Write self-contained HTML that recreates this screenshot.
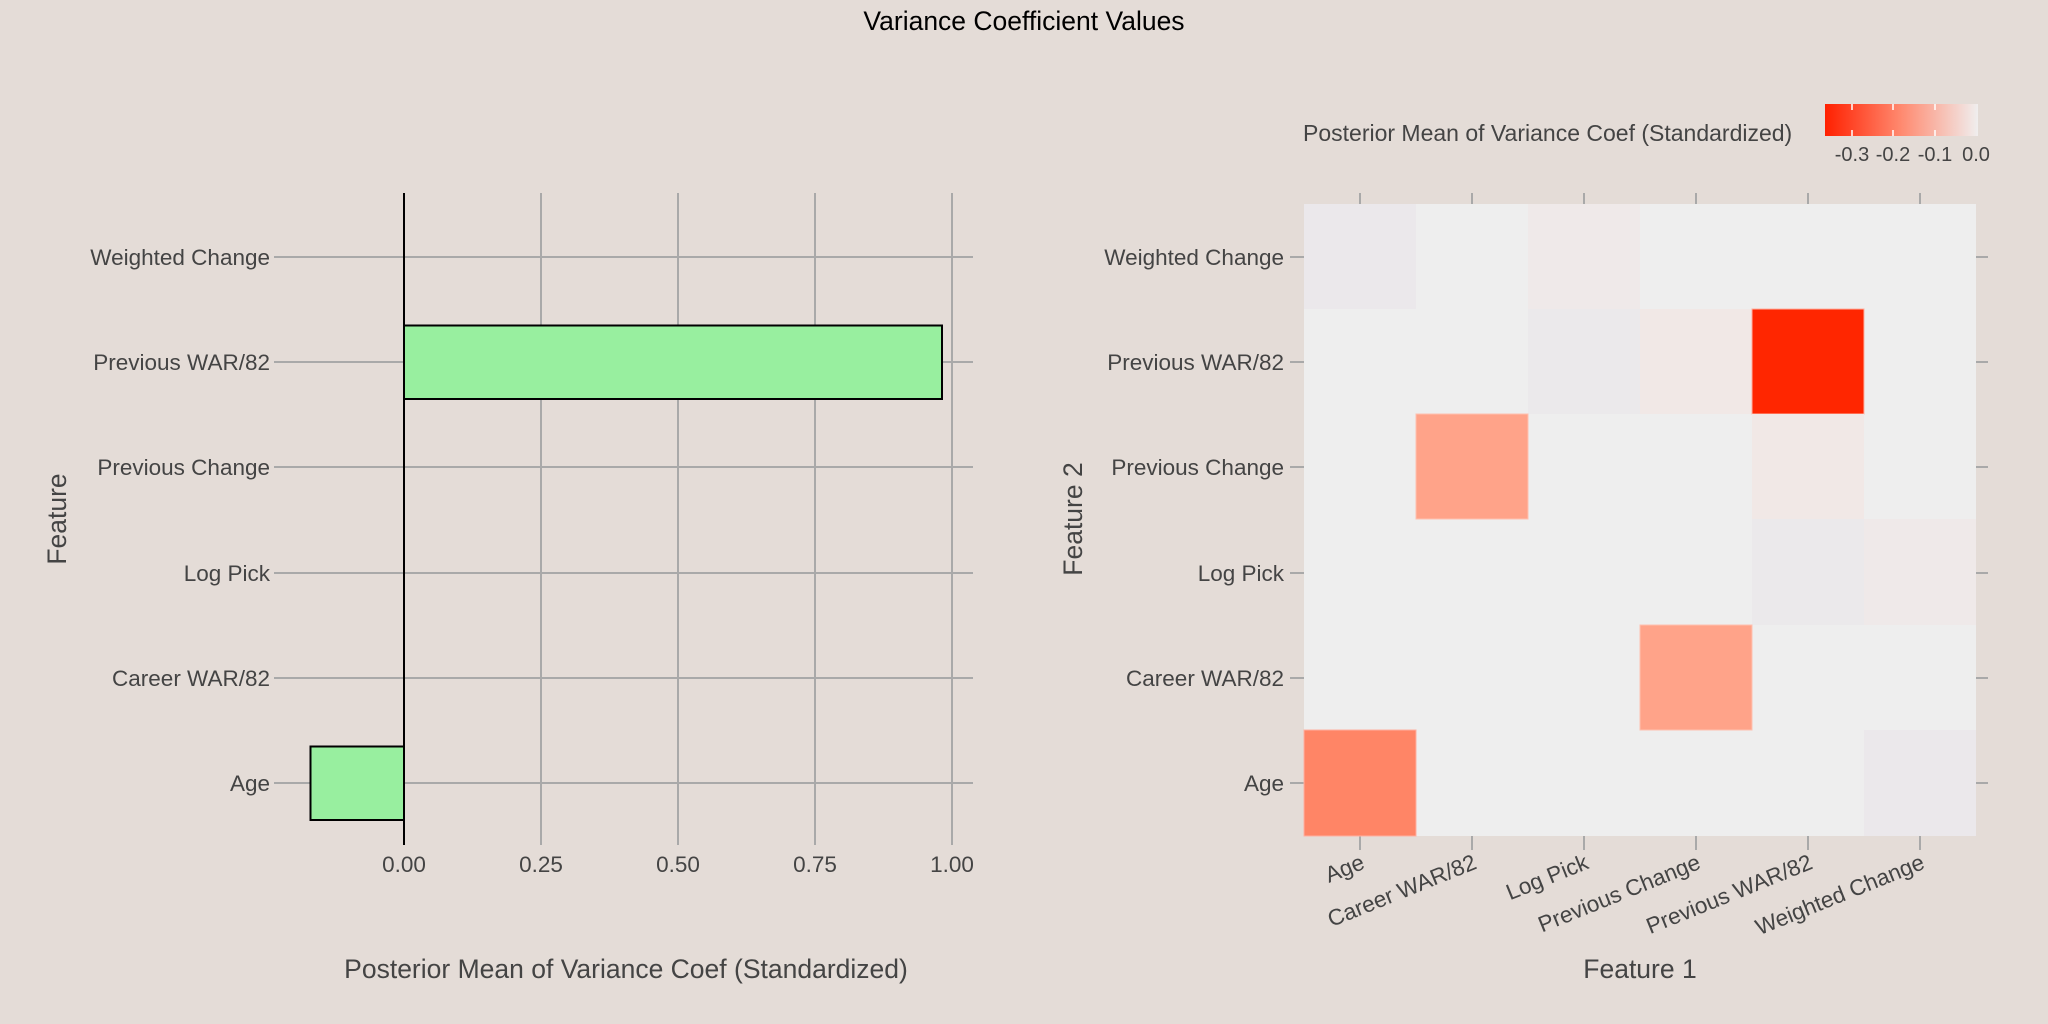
<!DOCTYPE html>
<html><head><meta charset="utf-8"><style>
html,body{margin:0;padding:0;background:#e4dcd7;}
svg{display:block;font-family:"Liberation Sans",sans-serif;}
</style></head><body>
<svg width="2048" height="1024" viewBox="0 0 2048 1024">
<rect width="2048" height="1024" fill="#e4dcd7"/>
<text x="1024" y="30" font-size="26.5" text-anchor="middle" fill="#000">Variance Coefficient Values</text>
<!-- left chart -->
<g stroke="#a9a9a9" stroke-width="2">
<line x1="541" y1="193" x2="541" y2="845"/>
<line x1="678" y1="193" x2="678" y2="845"/>
<line x1="815" y1="193" x2="815" y2="845"/>
<line x1="952" y1="193" x2="952" y2="845"/>
<line x1="274" y1="257" x2="973" y2="257"/>
<line x1="274" y1="362" x2="973" y2="362"/>
<line x1="274" y1="467" x2="973" y2="467"/>
<line x1="274" y1="573" x2="973" y2="573"/>
<line x1="274" y1="678" x2="973" y2="678"/>
<line x1="274" y1="783" x2="973" y2="783"/>
</g>
<rect x="404" y="325.5" width="538" height="73.5" fill="#98ef9f" stroke="#000" stroke-width="2"/>
<rect x="310.5" y="746.5" width="93.5" height="73.5" fill="#98ef9f" stroke="#000" stroke-width="2"/>
<line x1="404" y1="193" x2="404" y2="845" stroke="#000" stroke-width="2"/>
<g font-size="22.5" fill="#444" text-anchor="end">
<text x="270" y="265">Weighted Change</text>
<text x="270" y="370">Previous WAR/82</text>
<text x="270" y="475">Previous Change</text>
<text x="270" y="581">Log Pick</text>
<text x="270" y="686">Career WAR/82</text>
<text x="270" y="791">Age</text>
</g>
<g font-size="22.5" fill="#444" text-anchor="middle">
<text x="404" y="872">0.00</text>
<text x="541" y="872">0.25</text>
<text x="678" y="872">0.50</text>
<text x="815" y="872">0.75</text>
<text x="952" y="872">1.00</text>
</g>
<text x="626" y="978" font-size="26.5" fill="#444" text-anchor="middle">Posterior Mean of Variance Coef (Standardized)</text>
<text transform="translate(66,519) rotate(-90)" font-size="26.5" fill="#444" text-anchor="middle">Feature</text>
<!-- heatmap -->
<g stroke="#a9a9a9" stroke-width="2">
<line x1="1360" y1="193" x2="1360" y2="206"/><line x1="1472" y1="193" x2="1472" y2="206"/>
<line x1="1584" y1="193" x2="1584" y2="206"/><line x1="1696" y1="193" x2="1696" y2="206"/>
<line x1="1808" y1="193" x2="1808" y2="206"/><line x1="1920" y1="193" x2="1920" y2="206"/>
<line x1="1360" y1="836" x2="1360" y2="850"/><line x1="1472" y1="836" x2="1472" y2="850"/>
<line x1="1584" y1="836" x2="1584" y2="850"/><line x1="1696" y1="836" x2="1696" y2="850"/>
<line x1="1808" y1="836" x2="1808" y2="850"/><line x1="1920" y1="836" x2="1920" y2="850"/>
<line x1="1290" y1="257" x2="1304" y2="257"/><line x1="1290" y1="362" x2="1304" y2="362"/>
<line x1="1290" y1="467" x2="1304" y2="467"/><line x1="1290" y1="573" x2="1304" y2="573"/>
<line x1="1290" y1="678" x2="1304" y2="678"/><line x1="1290" y1="783" x2="1304" y2="783"/>
<line x1="1976" y1="257" x2="1988" y2="257"/><line x1="1976" y1="362" x2="1988" y2="362"/>
<line x1="1976" y1="467" x2="1988" y2="467"/><line x1="1976" y1="573" x2="1988" y2="573"/>
<line x1="1976" y1="678" x2="1988" y2="678"/><line x1="1976" y1="783" x2="1988" y2="783"/>
</g>
<rect x="1304" y="204" width="672" height="632" fill="#eeeeee"/>
<rect x="1304" y="204" width="112" height="105" fill="#ebe8eb"/>
<rect x="1528" y="204" width="112" height="105" fill="#efe9e9"/>
<rect x="1528" y="309" width="112" height="105" fill="#ebe9eb"/>
<rect x="1640" y="309" width="112" height="105" fill="#f1e8e6"/>
<rect x="1752" y="309" width="112" height="105" fill="#ff2600" stroke="#ffb0a0" stroke-width="1"/>
<rect x="1416" y="414" width="112" height="105" fill="#ffa389" stroke="#ffc0b0" stroke-width="1"/>
<rect x="1752" y="414" width="112" height="105" fill="#f1e8e6"/>
<rect x="1752" y="519" width="112" height="106" fill="#ebe9eb"/>
<rect x="1864" y="519" width="112" height="106" fill="#efe9e9"/>
<rect x="1640" y="625" width="112" height="105" fill="#ffa389" stroke="#ffc0b0" stroke-width="1"/>
<rect x="1304" y="730" width="112" height="106" fill="#ff8566" stroke="#ffb0a0" stroke-width="1"/>
<rect x="1864" y="730" width="112" height="106" fill="#ebe8eb"/>
<g font-size="22.5" fill="#444" text-anchor="end">
<text x="1284" y="265">Weighted Change</text>
<text x="1284" y="370">Previous WAR/82</text>
<text x="1284" y="475">Previous Change</text>
<text x="1284" y="581">Log Pick</text>
<text x="1284" y="686">Career WAR/82</text>
<text x="1284" y="791">Age</text>
</g>
<g font-size="22.5" fill="#444" text-anchor="end">
<text transform="translate(1366,868) rotate(-22)">Age</text>
<text transform="translate(1478,868) rotate(-22)">Career WAR/82</text>
<text transform="translate(1590,868) rotate(-22)">Log Pick</text>
<text transform="translate(1702,868) rotate(-22)">Previous Change</text>
<text transform="translate(1814,868) rotate(-22)">Previous WAR/82</text>
<text transform="translate(1926,868) rotate(-22)">Weighted Change</text>
</g>
<text x="1640" y="978" font-size="26.5" fill="#444" text-anchor="middle">Feature 1</text>
<text transform="translate(1082,519) rotate(-90)" font-size="26.5" fill="#444" text-anchor="middle">Feature 2</text>
<!-- legend -->
<defs><linearGradient id="lg" x1="0" x2="1" y1="0" y2="0">
<stop offset="0" stop-color="#ff2000"/><stop offset="0.5" stop-color="#ff8a70"/><stop offset="1" stop-color="#f0eeee"/>
</linearGradient></defs>
<rect x="1825" y="104" width="153" height="32" fill="url(#lg)"/>
<g stroke="#fff" stroke-width="1.5">
<line x1="1852" y1="104" x2="1852" y2="110"/><line x1="1852" y1="130" x2="1852" y2="136"/>
<line x1="1893" y1="104" x2="1893" y2="110"/><line x1="1893" y1="130" x2="1893" y2="136"/>
<line x1="1935" y1="104" x2="1935" y2="110"/><line x1="1935" y1="130" x2="1935" y2="136"/>
</g>
<text x="1303" y="141" font-size="23" fill="#444">Posterior Mean of Variance Coef (Standardized)</text>
<g font-size="20" fill="#444" text-anchor="middle">
<text x="1852" y="161">-0.3</text>
<text x="1893" y="161">-0.2</text>
<text x="1935" y="161">-0.1</text>
<text x="1976" y="161">0.0</text>
</g>
</svg>
</body></html>
